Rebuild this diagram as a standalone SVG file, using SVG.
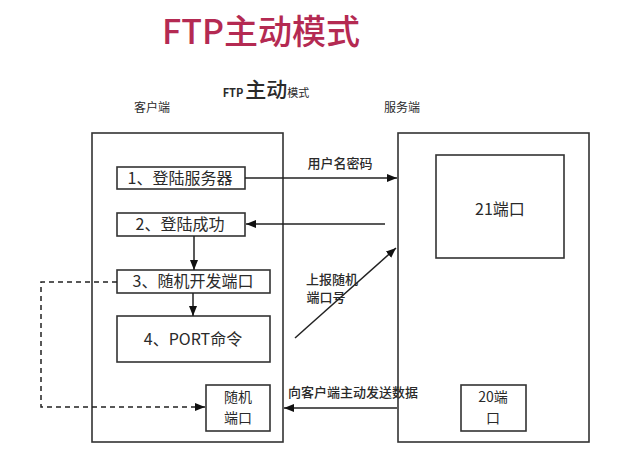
<svg xmlns="http://www.w3.org/2000/svg" width="640" height="461" viewBox="0 0 640 461">
<defs>
<style>
.t{font-family:"Noto Sans CJK SC","Liberation Sans",sans-serif;fill:#2a2a2a}
.box{fill:#fff;stroke:#333;stroke-width:1.6}
.ln{fill:none;stroke:#222;stroke-width:1.5}
.dash{fill:none;stroke:#222;stroke-width:1.5;stroke-dasharray:5 4}
.bt{font-size:16px;text-anchor:middle}
.bt2{font-size:14px;text-anchor:middle}
.lb{font-size:13px;font-weight:500}
</style>
<marker id="ah" viewBox="0 0 10 10" refX="10" refY="5" markerWidth="10" markerHeight="10" markerUnits="userSpaceOnUse" orient="auto">
<path d="M0,1 L10,5 L0,9 z" fill="#111"/>
</marker>
</defs>
<rect width="640" height="461" fill="#fff"/>
<text x="261" y="44" text-anchor="middle" font-family="'Noto Sans CJK SC','Liberation Sans',sans-serif" font-size="34" font-weight="500" fill="#b42a52">FTP主动模式</text>
<text class="t" x="266" y="97" text-anchor="middle"><tspan font-size="11" font-weight="bold">FTP</tspan><tspan font-size="21" dx="2" font-weight="500">主动</tspan><tspan font-size="11">模式</tspan></text>
<text class="t" x="152" y="112" font-size="12" text-anchor="middle">客户端</text>
<text class="t" x="402" y="112" font-size="12" text-anchor="middle">服务端</text>

<g id="client"><rect class="box" x="92" y="133" width="191" height="309"/></g>
<g id="server"><rect class="box" x="398" y="133" width="191" height="309"/></g>
<g id="port21"><rect class="box" x="436" y="155" width="128" height="103"/><text class="t bt" x="500" y="215">21端口</text></g>
<g id="port20"><rect class="box" x="461" y="385" width="65" height="46"/><text class="t bt2" x="493" y="402">20端</text><text class="t bt2" x="493" y="423">口</text></g>
<g id="step1"><rect class="box" x="117" y="167" width="128" height="22"/><text class="t bt" x="180" y="184">1、登陆服务器</text></g>
<g id="step2"><rect class="box" x="117" y="213" width="128" height="23"/><text class="t bt" x="180" y="230">2、登陆成功</text></g>
<g id="step3"><rect class="box" x="117" y="270" width="153" height="23"/><text class="t bt" x="193" y="287">3、随机开发端口</text></g>
<g id="step4"><rect class="box" x="117" y="316" width="153" height="46"/><text class="t bt" x="193" y="345">4、PORT命令</text></g>
<g id="randport"><rect class="box" x="206" y="385" width="64" height="46"/><text class="t bt2" x="238" y="402">随机</text><text class="t bt2" x="238" y="423">端口</text></g>

<g id="connectors">
<line class="ln" x1="245" y1="178" x2="397" y2="178" marker-end="url(#ah)"/>
<line class="ln" x1="385" y1="224" x2="246" y2="224" marker-end="url(#ah)"/>
<line class="ln" x1="194" y1="236" x2="194" y2="270" marker-end="url(#ah)"/>
<line class="ln" x1="193" y1="293" x2="193" y2="316" marker-end="url(#ah)"/>
<line class="ln" x1="295" y1="338" x2="396" y2="248" marker-end="url(#ah)"/>
<line class="ln" x1="397" y1="408" x2="284" y2="408" marker-end="url(#ah)"/>
<polyline class="dash" points="117,282 41,282 41,407 205,407" marker-end="url(#ah)"/>
<text class="t lb" x="340" y="168" text-anchor="middle">用户名密码</text>
<text class="t lb" x="332" y="284" text-anchor="middle" font-size="12">上报随机</text>
<text class="t lb" x="326" y="302" text-anchor="middle" font-size="12">端口号</text>
<text class="t lb" x="353" y="397" text-anchor="middle">向客户端主动发送数据</text>
</g>
</svg>
